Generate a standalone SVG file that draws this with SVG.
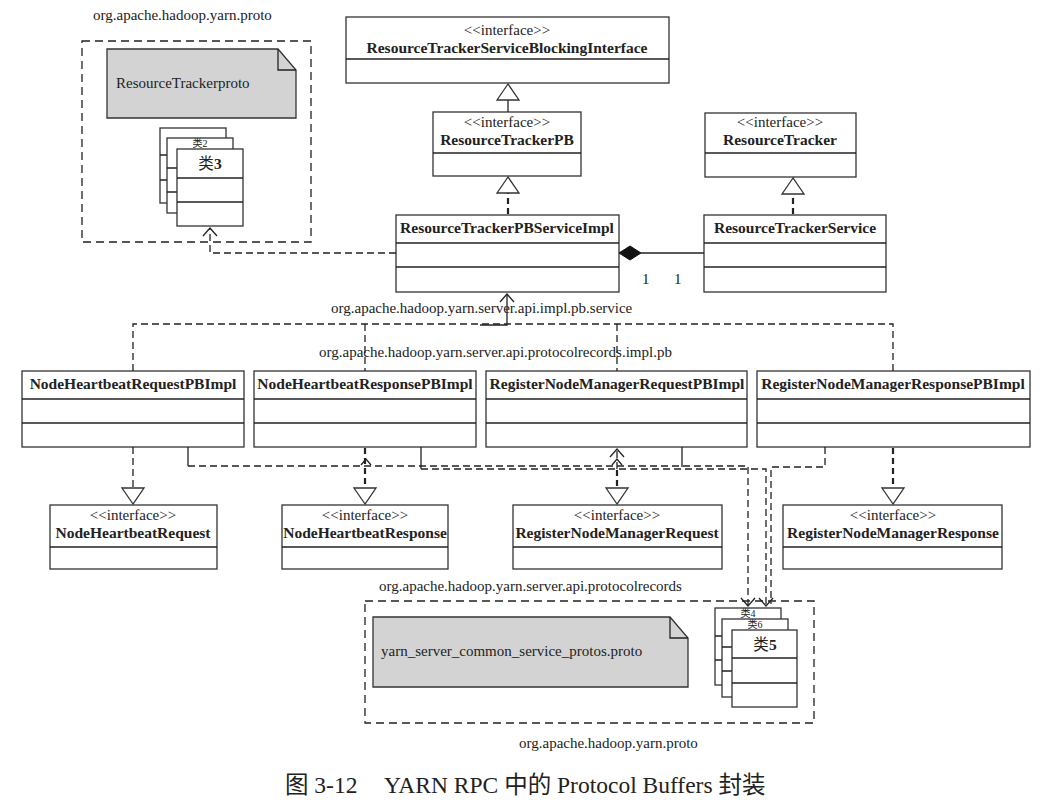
<svg xmlns="http://www.w3.org/2000/svg" width="1054" height="810" viewBox="0 0 1054 810">
<style>
text{font-family:"Liberation Serif","Noto Sans CJK SC",serif;fill:#222}
.st{font-size:15px}
.nm{font-size:15.5px;font-weight:bold}
.pl{font-size:15px}
.cap{font-size:23.5px}
.cj{font-weight:normal}
.sm{font-size:10px}
.box{fill:#fff;stroke:#333;stroke-width:1.3}
.note{fill:#d3d3d3;stroke:#333;stroke-width:1.3}
.pkg{fill:none;stroke:#222;stroke-width:1.3;stroke-dasharray:8 5}
.dep{fill:none;stroke:#222;stroke-width:1.3;stroke-dasharray:7 4}
.real{fill:none;stroke:#222;stroke-width:2.2;stroke-dasharray:6 4}
.sol{fill:none;stroke:#222;stroke-width:1.3}
.tri{fill:#fff;stroke:#333;stroke-width:1.3}
.oa{fill:none;stroke:#222;stroke-width:1.3}
</style>
<defs>
<marker id="open" markerUnits="userSpaceOnUse" markerWidth="18" markerHeight="18" refX="9" refY="7" orient="auto" viewBox="0 0 18 14">
<path d="M1,0 L9,7 L1,14" fill="none" stroke="#222" stroke-width="1.3" stroke-dasharray="none"/>
</marker>
</defs>
<rect width="1054" height="810" fill="#fff"/>

<!-- top-left package -->
<g id="pkg-proto-top">
<text class="pl" x="93" y="20">org.apache.hadoop.yarn.proto</text>
<rect class="pkg" x="82" y="41" width="229" height="201"/>
<path class="note" d="M107,49 H278 L296,70 V118 H107 Z"/>
<path class="sol" d="M278,49 V70 H296"/>
<text class="st" x="116" y="88">ResourceTrackerproto</text>
</g>
<g id="cls-proto-back">
<rect class="box" x="160" y="128" width="66" height="75"/>
<line class="sol" x1="160" y1="155" x2="226" y2="155"/>
<line class="sol" x1="160" y1="180" x2="226" y2="180"/>
</g>
<g id="cls-proto-mid">
<rect class="box" x="167" y="138" width="66" height="75"/>
<text class="sm" x="200" y="147" text-anchor="middle">类2</text>
<line class="sol" x1="167" y1="168" x2="233" y2="168"/>
<line class="sol" x1="167" y1="192" x2="233" y2="192"/>
</g>
<g id="cls-proto-3">
<rect class="box" x="177" y="149" width="66" height="77"/>
<text class="nm" x="210" y="169" text-anchor="middle"><tspan class="cj">类</tspan>3</text>
<line class="sol" x1="177" y1="178" x2="243" y2="178"/>
<line class="sol" x1="177" y1="202" x2="243" y2="202"/>
</g>

<!-- top interfaces -->
<g id="ResourceTrackerServiceBlockingInterface">
<rect class="box" x="346" y="17" width="323" height="66"/>
<line class="sol" x1="346" y1="59" x2="669" y2="59"/>
<text class="st" x="507" y="35" text-anchor="middle">&lt;&lt;interface&gt;&gt;</text>
<text class="nm" x="507" y="53" text-anchor="middle">ResourceTrackerServiceBlockingInterface</text>
</g>
<g id="ResourceTrackerPB">
<rect class="box" x="433" y="112" width="148" height="64"/>
<line class="sol" x1="433" y1="153" x2="581" y2="153"/>
<text class="st" x="507" y="127" text-anchor="middle">&lt;&lt;interface&gt;&gt;</text>
<text class="nm" x="507" y="145" text-anchor="middle">ResourceTrackerPB</text>
</g>
<g id="ResourceTracker">
<rect class="box" x="705" y="113" width="151" height="64"/>
<line class="sol" x1="705" y1="153" x2="856" y2="153"/>
<text class="st" x="780" y="127" text-anchor="middle">&lt;&lt;interface&gt;&gt;</text>
<text class="nm" x="780" y="145" text-anchor="middle">ResourceTracker</text>
</g>
<g id="ResourceTrackerPBServiceImpl">
<rect class="box" x="396" y="215" width="223" height="77"/>
<line class="sol" x1="396" y1="243" x2="619" y2="243"/>
<line class="sol" x1="396" y1="267" x2="619" y2="267"/>
<text class="nm" x="507" y="233" text-anchor="middle">ResourceTrackerPBServiceImpl</text>
</g>
<g id="ResourceTrackerService">
<rect class="box" x="704" y="215" width="182" height="77"/>
<line class="sol" x1="704" y1="243" x2="886" y2="243"/>
<line class="sol" x1="704" y1="267" x2="886" y2="267"/>
<text class="nm" x="795" y="233" text-anchor="middle">ResourceTrackerService</text>
</g>

<!-- package labels -->
<g id="pkg-labels">
<text class="pl" x="331" y="313">org.apache.hadoop.yarn.server.api.impl.pb.service</text>
<text class="pl" x="319" y="357">org.apache.hadoop.yarn.server.api.protocolrecords.impl.pb</text>
</g>

<!-- PB impl row -->
<g id="NodeHeartbeatRequestPBImpl">
<rect class="box" x="22" y="371" width="222" height="76"/>
<line class="sol" x1="22" y1="399" x2="244" y2="399"/>
<line class="sol" x1="22" y1="423" x2="244" y2="423"/>
<text class="nm" x="133" y="389" text-anchor="middle">NodeHeartbeatRequestPBImpl</text>
</g>
<g id="NodeHeartbeatResponsePBImpl">
<rect class="box" x="254" y="371" width="222" height="76"/>
<line class="sol" x1="254" y1="399" x2="476" y2="399"/>
<line class="sol" x1="254" y1="423" x2="476" y2="423"/>
<text class="nm" x="365" y="389" text-anchor="middle">NodeHeartbeatResponsePBImpl</text>
</g>
<g id="RegisterNodeManagerRequestPBImpl">
<rect class="box" x="486" y="371" width="261" height="76"/>
<line class="sol" x1="486" y1="399" x2="747" y2="399"/>
<line class="sol" x1="486" y1="423" x2="747" y2="423"/>
<text class="nm" x="617" y="389" text-anchor="middle">RegisterNodeManagerRequestPBImpl</text>
</g>
<g id="RegisterNodeManagerResponsePBImpl">
<rect class="box" x="757" y="371" width="273" height="76"/>
<line class="sol" x1="757" y1="399" x2="1030" y2="399"/>
<line class="sol" x1="757" y1="423" x2="1030" y2="423"/>
<text class="nm" x="893" y="389" text-anchor="middle">RegisterNodeManagerResponsePBImpl</text>
</g>

<!-- interfaces row -->
<g id="NodeHeartbeatRequest">
<rect class="box" x="50" y="505" width="167" height="64"/>
<line class="sol" x1="50" y1="547" x2="217" y2="547"/>
<text class="st" x="133" y="520" text-anchor="middle">&lt;&lt;interface&gt;&gt;</text>
<text class="nm" x="133" y="538" text-anchor="middle">NodeHeartbeatRequest</text>
</g>
<g id="NodeHeartbeatResponse">
<rect class="box" x="282" y="505" width="166" height="64"/>
<line class="sol" x1="282" y1="547" x2="448" y2="547"/>
<text class="st" x="365" y="520" text-anchor="middle">&lt;&lt;interface&gt;&gt;</text>
<text class="nm" x="365" y="538" text-anchor="middle">NodeHeartbeatResponse</text>
</g>
<g id="RegisterNodeManagerRequest">
<rect class="box" x="513" y="505" width="209" height="64"/>
<line class="sol" x1="513" y1="547" x2="722" y2="547"/>
<text class="st" x="617" y="520" text-anchor="middle">&lt;&lt;interface&gt;&gt;</text>
<text class="nm" x="617" y="538" text-anchor="middle">RegisterNodeManagerRequest</text>
</g>
<g id="RegisterNodeManagerResponse">
<rect class="box" x="783" y="505" width="219" height="64"/>
<line class="sol" x1="783" y1="547" x2="1002" y2="547"/>
<text class="st" x="893" y="520" text-anchor="middle">&lt;&lt;interface&gt;&gt;</text>
<text class="nm" x="893" y="538" text-anchor="middle">RegisterNodeManagerResponse</text>
</g>

<!-- bottom package -->
<g id="pkg-protocolrecords">
<text class="pl" x="379" y="591">org.apache.hadoop.yarn.server.api.protocolrecords</text>
<rect class="pkg" x="365" y="601" width="449" height="122"/>
<path class="note" d="M373,617 H670 L688,638 V687 H373 Z"/>
<path class="sol" d="M670,617 V638 H688"/>
<text class="st" x="381" y="656">yarn_server_common_service_protos.proto</text>
<text class="pl" x="519" y="748">org.apache.hadoop.yarn.proto</text>
</g>
<g id="cls-proto-4">
<rect class="box" x="715" y="608" width="66" height="77"/>
<text class="sm" x="748" y="617" text-anchor="middle">类4</text>
<line class="sol" x1="715" y1="636" x2="781" y2="636"/>
<line class="sol" x1="715" y1="660" x2="781" y2="660"/>
</g>
<g id="cls-proto-6">
<rect class="box" x="722" y="619" width="66" height="78"/>
<text class="sm" x="755" y="628" text-anchor="middle">类6</text>
<line class="sol" x1="722" y1="647" x2="788" y2="647"/>
<line class="sol" x1="722" y1="671" x2="788" y2="671"/>
</g>
<g id="cls-proto-5">
<rect class="box" x="732" y="630" width="65" height="77"/>
<text class="nm" x="765" y="650" text-anchor="middle"><tspan class="cj">类</tspan>5</text>
<line class="sol" x1="732" y1="658" x2="797" y2="658"/>
<line class="sol" x1="732" y1="683" x2="797" y2="683"/>
</g>

<!-- connectors -->
<g id="connectors">
<line class="sol" x1="508" y1="100" x2="508" y2="112"/>
<polygon class="tri" points="508,84 497,100 519,100"/>
<line class="real" x1="508" y1="214" x2="508" y2="193"/>
<polygon class="tri" points="508,177 497,193 519,193"/>
<line class="real" x1="793" y1="214" x2="793" y2="194"/>
<polygon class="tri" points="793,178 782,194 804,194"/>
<line class="sol" x1="641" y1="253" x2="704" y2="253"/>
<polygon points="619,253 630,246 641,253 630,260" fill="#111" stroke="#111"/>
<text class="pl" x="642" y="284">1</text>
<text class="pl" x="674" y="284">1</text>
<path class="dep" d="M396,253 H210 V228" marker-end="url(#open)"/>
<path class="dep" d="M133,371 V324 H893 V371"/>
<line class="dep" x1="365" y1="324" x2="365" y2="371"/>
<line class="dep" x1="617" y1="324" x2="617" y2="371"/>
<path class="sol" d="M480,325 H507 V294" marker-end="url(#open)"/>
<line class="dep" x1="133" y1="447" x2="133" y2="488"/>
<polygon class="tri" points="133,504 122,488 144,488"/>
<line class="real" x1="365" y1="448" x2="365" y2="488"/>
<polygon class="tri" points="365,504 354,488 376,488"/>
<line class="real" x1="617" y1="470" x2="617" y2="488"/>
<polygon class="tri" points="617,504 606,488 628,488"/>
<line class="real" x1="893" y1="448" x2="893" y2="488"/>
<polygon class="tri" points="893,504 882,488 904,488"/>
<line class="sol" x1="188" y1="447" x2="188" y2="466"/>
<path class="dep" d="M188,466 H748 V606" marker-end="url(#open)"/>
<line class="sol" x1="421" y1="447" x2="421" y2="469"/>
<path class="dep" d="M421,469 H766 V606" marker-end="url(#open)"/>
<line class="sol" x1="682" y1="447" x2="682" y2="467"/>
<path class="dep" d="M825,447 V467 H771 V604"/>
<path class="dep" d="M617,469 V449" marker-end="url(#open)"/>
<path class="oa" d="M361,465 L366,459 L371,465"/>
<path class="oa" d="M612,465 L617,459 L622,465"/>
</g>

<text class="cap" x="285" y="793">图 3-12</text>
<text class="cap" x="384" y="793">YARN RPC 中的 Protocol Buffers 封装</text>
</svg>
